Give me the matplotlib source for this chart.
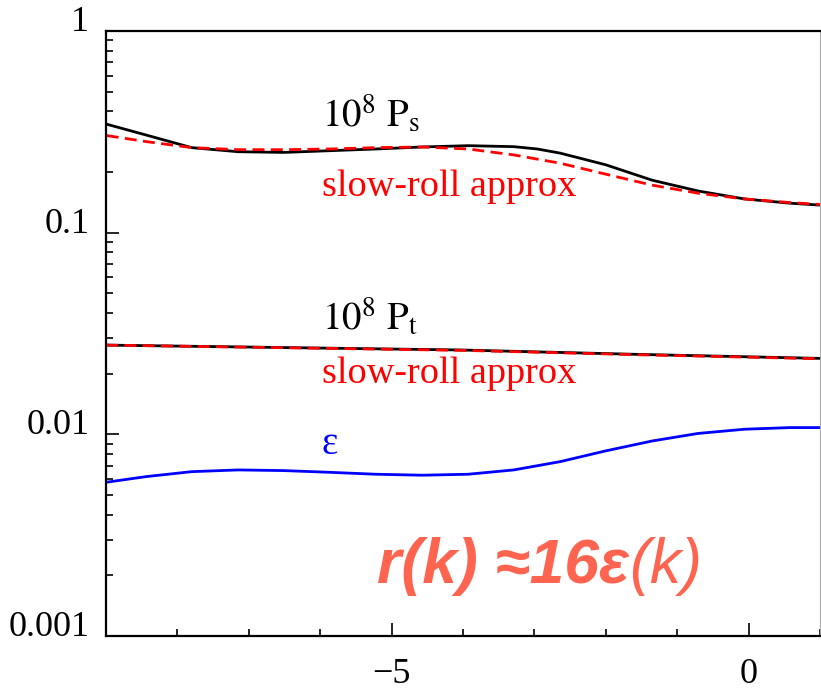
import matplotlib
matplotlib.use("Agg")
import matplotlib.pyplot as plt
from matplotlib.ticker import FixedLocator, MultipleLocator, LogLocator, NullFormatter, FuncFormatter

# ---- data ----
grid_x = [-8.99, -8.44, -7.80, -7.15, -6.51, -5.86, -5.22, -4.57, -3.93, -3.29,
          -2.64, -2.00, -1.35, -0.71, -0.06, 0.58, 1.0]

ps_x = [-8.99, -8.44, -7.80, -7.15, -6.51, -5.86, -5.22, -4.57, -3.93, -3.29, -2.96,
        -2.64, -2.00, -1.35, -0.71, -0.06, 0.58, 1.0]
ps_y = [0.345, 0.305, 0.264, 0.252, 0.250, 0.255, 0.260, 0.266, 0.270, 0.267, 0.260,
        0.248, 0.217, 0.182, 0.161, 0.147, 0.140, 0.137]

ps_sr_x = grid_x
ps_sr_y = [0.303, 0.283, 0.264, 0.258, 0.258, 0.260, 0.264, 0.266, 0.260, 0.243,
           0.221, 0.195, 0.172, 0.157, 0.147, 0.141, 0.138]

pt_x = [-9.0, -4.04, -1.52, 1.0]
pt_y = [0.0277, 0.0262, 0.0249, 0.0238]
pt_sr_x = [-9.0, -4.04, -1.52, 1.0]
pt_sr_y = [0.0277, 0.0261, 0.0248, 0.0237]

eps_x = grid_x
eps_y = [0.00579, 0.00617, 0.00653, 0.00666, 0.00661, 0.00648, 0.00634, 0.00627, 0.00634,
         0.00666, 0.00732, 0.00828, 0.00927, 0.0101, 0.0106, 0.0108, 0.0108]

x_major = [-5, 0]
y_major = [0.001, 0.01, 0.1, 1]
y_major_labels = ["0.001", "0.01", "0.1", "1"]

# ---- style ----
plt.rcParams['font.family'] = ['Liberation Serif', 'DejaVu Serif']
plt.rcParams['mathtext.fontset'] = 'stix'
plt.rcParams['ytick.alignment'] = 'baseline'

fig = plt.figure(figsize=(8.21, 6.91), dpi=100)
ax = fig.add_axes([106/821, 1-636/691, (820-106)/821, (636-31)/691])

lw = 2.0
dash = (4.3, 2.3)
ax.plot(ps_x, ps_y, color='black', lw=lw, solid_joinstyle='round')
ax.plot(ps_sr_x, ps_sr_y, color='#ff0000', lw=lw, dashes=dash)
ax.plot(pt_x, pt_y, color='black', lw=lw)
ax.plot(pt_sr_x, pt_sr_y, color='#ff0000', lw=lw, dashes=dash)
ax.plot(eps_x, eps_y, color='#0000ff', lw=lw, solid_joinstyle='round')

ax.set_yscale('log')
ax.set_xlim(-9, 1)
ax.set_ylim(0.001, 1)

ax.xaxis.set_major_locator(FixedLocator(x_major))
ax.xaxis.set_minor_locator(MultipleLocator(1))
ax.yaxis.set_major_locator(FixedLocator(y_major))
ax.yaxis.set_major_formatter(FuncFormatter(
    lambda v, p: y_major_labels[y_major.index(min(y_major, key=lambda t: abs(t - v)))]))
ax.yaxis.set_minor_locator(LogLocator(base=10, subs=range(2, 10)))
ax.yaxis.set_minor_formatter(NullFormatter())

ax.tick_params(axis='both', which='major', direction='in', length=9.5, width=1.2,
               labelsize=26, top=False, right=False, color='black')
ax.tick_params(axis='both', which='minor', direction='in', length=5, width=1.2,
               top=False, right=False)
ax.tick_params(axis='y', which='major', pad=12)
ax.tick_params(axis='x', which='major', pad=16)

for s in ['left', 'bottom', 'top']:
    ax.spines[s].set_linewidth(1.6)
    ax.spines[s].set_color('black')
ax.spines['right'].set_color('#aaaaaa')
ax.spines['right'].set_linewidth(0.8)

# ---- labels ----
ax.text(-5.975, 0.334, r'$10^8\ \mathrm{P}_\mathrm{s}$', fontsize=28, color='black', ha='left', va='baseline')
ax.text(-5.975, 0.152, 'slow-roll approx', fontsize=27.5, color='#ff0000', ha='left', va='baseline')
ax.text(-5.975, 0.0329, r'$10^8\ \mathrm{P}_\mathrm{t}$', fontsize=28, color='black', ha='left', va='baseline')
ax.text(-5.975, 0.0180, 'slow-roll approx', fontsize=27.5, color='#ff0000', ha='left', va='baseline')
ax.text(-5.975, 0.0080, 'ε', fontsize=28, color='#0000ff', ha='left', va='baseline')

t1 = ax.text(-5.20, 0.00183, 'r(k) ≈16ε', fontsize=45, color='#ff6450',
             family='Liberation Sans', weight='bold', style='italic', ha='left', va='baseline')
ax.annotate('(k)', xy=(1, 0), xycoords=t1, fontsize=45, color='#ff6450',
            family='Liberation Sans', style='italic', ha='left', va='bottom')

fig.savefig('out.png', dpi=100)
